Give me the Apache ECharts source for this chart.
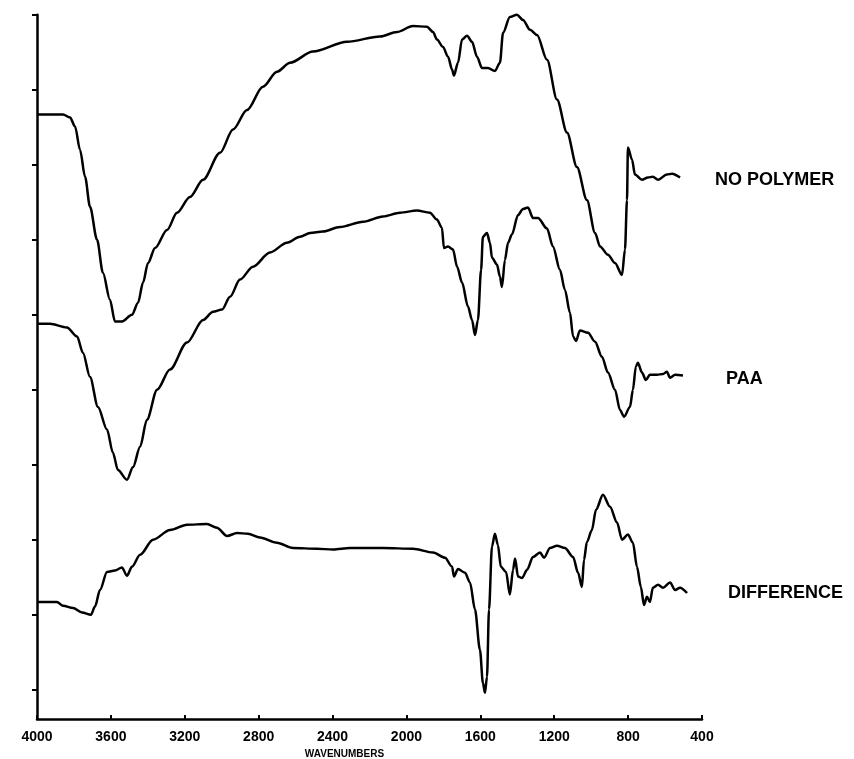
<!DOCTYPE html>
<html>
<head>
<meta charset="utf-8">
<script src="https://cdn.jsdelivr.net/npm/echarts@6/dist/echarts.min.js"></script>
<style>html,body{margin:0;padding:0;background:#fff;}#c{width:854px;height:759px;}</style>
</head>
<body>
<div id="c"></div>
<script>
// x tick labels (wavenumbers, cm-1)
const xTicks = [4000, 3600, 3200, 2800, 2400, 2000, 1600, 1200, 800, 400];
// y tick positions (arbitrary units)
const yTicks = [0, 10, 20, 30, 40, 50, 60, 70, 80, 90];
const seriesNames = ['NO POLYMER', 'PAA', 'DIFFERENCE'];

// NO POLYMER: [wavenumber, intensity]
const noPolymer = [
[4000,76.7],[3859,76.7],[3821,76.3],[3794,75.1],[3767,72],[3740,68.4],[3713,64.4],[3675,60],
[3643,55.6],[3605,52],[3578,49.1],[3540,49.1],[3486,50],[3453,51.6],[3426,54.3],[3399,56.9],
[3361,58.9],[3296,61.3],[3242,63.6],[3172,65.7],[3101,68],[3009,71.6],[2939,74.7],[2863,77.3],
[2777,80.4],[2701,82.4],[2630,83.6],[2506,85.1],[2322,86.4],[2143,87.1],[2051,87.7],[1965,88.5],
[1889,88.4],[1856,87.7],[1835,86.7],[1802,85.7],[1775,84.4],[1753,82.7],[1743,81.9],[1721,83.6],
[1699,86.7],[1672,87.2],[1645,86.4],[1618,84.4],[1591,82.9],[1559,82.9],[1521,82.5],[1494,83.6],
[1477,87.6],[1440,89.7],[1402,90],[1369,89.3],[1331,88],[1293,87.3],[1239,84],[1185,78.7],
[1131,74.3],[1077,69.7],[1023,65.3],[979,60.9],[952,59.1],[909,58],[871,56.9],[833,55.3],
[817,58.7],[806,65.3],[801,72.3],[779,70.7],[763,68.7],[725,68],[693,68.3],[666,68.4],
[638,68],[590,68.7],[562,68.8],[519,68.3]
];

// PAA
const paa = [
[4000,48.8],[3930,48.8],[3838,48.3],[3783,47.1],[3751,44.9],[3713,41.7],[3670,37.7],[3621,34.7],
[3589,31.6],[3562,29.3],[3513,28],[3480,29.7],[3442,32.4],[3405,36],[3350,40],[3280,42.7],
[3188,46.3],[3101,49.3],[3047,50.4],[2998,50.7],[2955,52.4],[2901,54.7],[2831,56.4],[2739,58.3],
[2647,59.6],[2576,60.4],[2522,60.9],[2452,61.1],[2360,61.7],[2235,62.4],[2127,63.1],[2035,63.6],
[1943,63.9],[1873,63.6],[1835,62.7],[1808,61.6],[1797,58.9],[1775,59.1],[1748,58.7],[1726,56.4],
[1699,54.3],[1667,51.1],[1645,49.3],[1629,47.3],[1613,49.3],[1596,56],[1586,60.4],[1564,60.9],
[1548,59.6],[1537,57.6],[1510,56.7],[1494,55.1],[1483,53.7],[1467,57.3],[1450,59.6],[1429,60.7],
[1396,63.3],[1369,64.1],[1342,64.3],[1315,62.9],[1288,62.9],[1239,61.5],[1207,59.1],[1169,56],
[1142,53.3],[1115,50.3],[1098,47.1],[1082,46.5],[1061,47.9],[1017,47.6],[979,46.4],[942,44.4],
[909,42.3],[871,40],[844,37.3],[822,36.4],[790,37.7],[774,40],[758,43.1],[747,43.6],
[725,42.3],[704,41.3],[682,42],[644,42],[611,42.1],[590,42.4],[573,41.6],[546,42],[503,41.9]
];

// DIFFERENCE
const difference = [
[4000,11.7],[3892,11.7],[3859,11.2],[3805,10.9],[3756,10.3],[3708,10],[3686,11.1],[3659,13.3],
[3621,15.7],[3578,15.9],[3540,16.3],[3513,15.2],[3486,16.4],[3442,18],[3372,20],[3280,21.3],
[3188,22],[3080,22.1],[3026,21.6],[2971,20.5],[2917,20.9],[2858,20.8],[2793,20.3],[2701,19.6],
[2614,18.9],[2484,18.8],[2398,18.7],[2306,18.9],[2127,18.9],[1965,18.8],[1856,18.3],[1791,17.6],
[1753,16.4],[1743,15.1],[1721,16.1],[1683,15.6],[1656,14.3],[1629,10.7],[1602,5.3],[1586,0.9],
[1575,-0.4],[1564,1.7],[1553,10.7],[1537,19.1],[1521,20.8],[1505,19.3],[1489,16.4],[1461,15.7],
[1440,12.7],[1423,16],[1412,17.5],[1396,15.1],[1374,14.9],[1347,16],[1315,17.7],[1277,18.3],
[1255,17.6],[1223,18.9],[1185,19.2],[1142,18.9],[1098,17.7],[1071,15.6],[1050,13.7],[1039,17.3],
[1023,19.7],[996,21.3],[974,24],[936,26],[898,24.4],[860,22.3],[833,20],[801,20.7],
[774,19.6],[752,16.4],[731,13.7],[714,11.3],[698,12.4],[682,11.7],[666,13.6],[638,14],
[611,13.6],[573,14.3],[546,13.3],[519,13.6],[481,12.9]
];

const chart = echarts.init(document.getElementById('c'), null, {renderer: 'canvas'});
const lineStyle = {color: '#000', width: 2.5};
function mk(name, data) {
  return {
    name: name, type: 'line', data: data, showSymbol: false, symbol: 'none',
    smooth: 0.3, smoothMonotone: 'x', lineStyle: lineStyle, itemStyle: {color: '#000'},
    clip: false, animation: false
  };
}
chart.setOption({
  animation: false,
  backgroundColor: '#fff',
  grid: {left: 37, right: 152, top: 14.75, bottom: 40, containLabel: false, outerBoundsMode: 'none'},
  xAxis: {
    type: 'value', min: 400, max: 4000, interval: 400, inverse: true,
    name: 'WAVENUMBERS', nameLocation: 'middle', nameGap: 27,
    nameTextStyle: {color: '#000', fontFamily: 'Liberation Sans', fontWeight: 'bold', fontSize: 10, padding: [0, 50, 0, 0]},
    axisLine: {show: true, onZero: false, lineStyle: {color: '#000', width: 2.5}},
    axisTick: {show: true, inside: true, length: 4, lineStyle: {color: '#000', width: 2}},
    axisLabel: {color: '#000', fontFamily: 'Liberation Sans', fontWeight: 'bold', fontSize: 14, margin: 11,
      formatter: function (v) { return xTicks.indexOf(v) >= 0 ? String(v) : ''; }},
    splitLine: {show: false}
  },
  yAxis: {
    type: 'value', min: -3.9, max: 90,
    axisLine: {show: true, onZero: false, lineStyle: {color: '#000', width: 2.5}},
    axisTick: {show: true, inside: false, length: 5, customValues: yTicks, lineStyle: {color: '#000', width: 2}},
    axisLabel: {show: false},
    splitLine: {show: false}
  },
  series: [
    mk(seriesNames[0], noPolymer),
    mk(seriesNames[1], paa),
    mk(seriesNames[2], difference)
  ]
});

// Curve name labels placed right of each curve's last point (via the chart's scales)
const allData = [noPolymer, paa, difference];
const labelGap = [35, 43, 41];
const labelDy = [3, 4, 0];
const graphics = allData.map(function (d, i) {
  const last = d[d.length - 1];
  const p = chart.convertToPixel({gridIndex: 0}, last);
  return {
    type: 'text', x: p[0] + labelGap[i], y: p[1] + labelDy[i],
    style: {text: seriesNames[i], fill: '#000', font: 'bold 18px "Liberation Sans"', verticalAlign: 'middle', align: 'left'}
  };
});
chart.setOption({graphic: graphics});
</script>
</body>
</html>
